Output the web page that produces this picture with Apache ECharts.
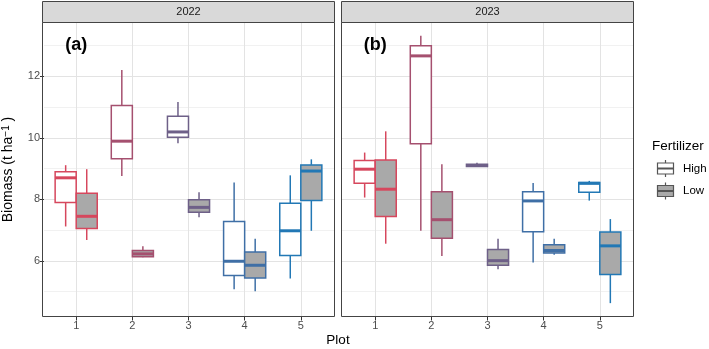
<!DOCTYPE html>
<html><head><meta charset="utf-8">
<script src="https://cdn.jsdelivr.net/npm/echarts@6/dist/echarts.min.js"></script>
<style>html,body{margin:0;padding:0;background:#fff}#c{width:709px;height:349px}</style>
</head><body><div id="c"></div>
<script>
// ---- data ----
const plots = ['1', '2', '3', '4', '5'];
const years = ['2022', '2023'];
const panelTags = ['(a)', '(b)'];
const fertilizers = ['High', 'Low'];
const yTicks = [6, 8, 10, 12];
const plotColors = ['#D6475D', '#A5506F', '#6E6088', '#3F6FA6', '#2278B5'];
// each row: [min, q1, median, q3, max]
const high2022 = [[7.12, 7.90, 8.70, 8.90, 9.11], [8.76, 9.32, 9.89, 11.05, 12.20], [9.82, 10.02, 10.19, 10.70, 11.16], [5.08, 5.53, 5.99, 7.28, 8.55], [5.43, 6.18, 6.98, 7.87, 8.78]];
const low2022  = [[6.68, 7.05, 7.45, 8.20, 8.98], [6.12, 6.14, 6.23, 6.34, 6.48], [7.42, 7.58, 7.74, 7.99, 8.23], [5.02, 5.45, 5.86, 6.29, 6.72], [6.98, 7.96, 8.92, 9.12, 9.30]];
const high2023 = [[8.06, 8.52, 8.98, 9.26, 9.52], [6.98, 9.81, 12.66, 12.99, 13.31], [9.05, 9.07, 9.10, 9.14, 9.19], [5.95, 6.95, 7.95, 8.25, 8.53], [7.96, 8.23, 8.52, 8.55, 8.60]];
const low2023  = [[6.56, 7.44, 8.33, 9.28, 10.21], [6.16, 6.74, 7.34, 8.25, 9.14], [5.73, 5.86, 6.01, 6.37, 6.72], [6.20, 6.26, 6.34, 6.53, 6.72], [4.63, 5.56, 6.49, 6.94, 7.36]];

// ---- layout ----
const panelLeft = [42.5, 341.5];
const panelW = 292, panelTop = 22.5, panelH = 294;
const band = panelW / 5.2;
const fillFor = { High: '#FFFFFF', Low: '#A9A9A9' };
const sideFor = { High: -1, Low: 1 };
const FONT = 'Liberation Sans';

const all = [].concat(high2022, low2022, high2023, low2023).flat();
const dmin = Math.min(...all), dmax = Math.max(...all);
const yMin = dmin - 0.05 * (dmax - dmin), yMax = dmax + 0.05 * (dmax - dmin);

function makeRender(fert) {
  const side = sideFor[fert], fill = fillFor[fert];
  return function (params, api) {
    const ci = api.value(0);
    const bw = api.size([1, 0])[0];
    const w = bw * 0.375;
    const base = api.coord([ci, api.value(3)]);
    const cx = base[0] + side * bw * 0.1875;
    const y = k => api.coord([ci, api.value(k)])[1];
    const color = plotColors[ci];
    const lw = 1.5;
    return { type: 'group', children: [
      { type: 'line', shape: { x1: cx, y1: y(5), x2: cx, y2: y(4) }, style: { stroke: color, lineWidth: lw } },
      { type: 'line', shape: { x1: cx, y1: y(2), x2: cx, y2: y(1) }, style: { stroke: color, lineWidth: lw } },
      { type: 'rect', shape: { x: cx - w / 2, y: y(4), width: w, height: y(2) - y(4) }, style: { fill: fill, stroke: color, lineWidth: lw } },
      { type: 'line', shape: { x1: cx - w / 2, y1: y(3), x2: cx + w / 2, y2: y(3) }, style: { stroke: color, lineWidth: 3 } }
    ]};
  };
}
const toData = rows => rows.map((r, i) => [i].concat(r));

// grids 0,1: full panels (background grid lines, y axis); grids 2,3: category data area
const grids = [];
panelLeft.forEach(pl => grids.push({ left: pl, width: panelW, top: panelTop, height: panelH, show: false }));
panelLeft.forEach(pl => grids.push({ left: pl + 0.1 * band, width: band * 5, top: panelTop, height: panelH, show: false }));

const xAxes = [], yAxes = [];
panelLeft.forEach((pl, i) => {
  xAxes.push({ type: 'value', gridIndex: i, min: 0, max: 1, show: false });
  yAxes.push({
    type: 'value', gridIndex: i, min: yMin, max: yMax,
    axisLine: { show: false },
    axisTick: { show: i === 0, customValues: yTicks, length: 4, lineStyle: { color: '#333', width: 1 } },
    axisLabel: { show: i === 0, customValues: yTicks, color: '#4D4D4D', fontSize: 11, margin: 4, fontFamily: FONT },
    splitLine: { show: true, lineStyle: { color: '#E3E3E3', width: 1 } },
    minorTick: { show: false, splitNumber: 2 },
    minorSplitLine: { show: true, lineStyle: { color: '#EEEEEE', width: 0.8 } },
    name: i === 0 ? 'Biomass (t ha{s|−1} )' : '', nameLocation: 'middle', nameGap: 29, nameRotate: 90,
    nameTextStyle: { fontSize: 14, color: '#000', fontFamily: FONT, rich: { s: { fontSize: 10, verticalAlign: 'top', color: '#000', fontFamily: FONT } } }
  });
});
panelLeft.forEach((pl, i) => {
  xAxes.push({
    type: 'category', gridIndex: i + 2, data: plots, boundaryGap: true,
    axisLine: { show: false },
    axisTick: { show: true, alignWithLabel: true, interval: 0, length: 4, lineStyle: { color: '#333', width: 1 } },
    axisLabel: { interval: 0, color: '#4D4D4D', fontSize: 11, margin: 4, fontFamily: FONT },
    splitLine: { show: true, alignWithLabel: true, interval: 0, lineStyle: { color: '#E3E3E3', width: 1 } }
  });
  yAxes.push({ type: 'value', gridIndex: i + 2, min: yMin, max: yMax, show: false, splitLine: { show: false } });
});

const series = [];
[[high2022, low2022], [high2023, low2023]].forEach((pair, gi) => {
  pair.forEach((rows, fi) => {
    series.push({
      type: 'custom', name: fertilizers[fi], xAxisIndex: gi + 2, yAxisIndex: gi + 2,
      renderItem: makeRender(fertilizers[fi]),
      encode: { x: 0, y: [1, 2, 3, 4, 5] },
      data: toData(rows), silent: true, z: 5
    });
  });
});

const graphic = [];
panelLeft.forEach((pl, i) => {
  graphic.push({ type: 'rect', shape: { x: pl, y: panelTop, width: panelW, height: panelH }, style: { fill: null, stroke: '#444', lineWidth: 1 }, z: 100 });
  graphic.push({ type: 'rect', shape: { x: pl, y: 1.5, width: panelW, height: 21 }, style: { fill: '#D9D9D9', stroke: '#444', lineWidth: 1 }, z: 100 });
  graphic.push({ type: 'text', x: pl + panelW / 2, y: 12, style: { text: years[i], fontSize: 11, fill: '#1A1A1A', align: 'center', verticalAlign: 'middle', fontFamily: FONT }, z: 101 });
});
graphic.push({ type: 'text', x: (panelLeft[0] + panelLeft[1] + panelW) / 2, y: 340, style: { text: 'Plot', fontSize: 13.5, fill: '#000', align: 'center', verticalAlign: 'middle', fontFamily: FONT } });
// legend
graphic.push({ type: 'text', x: 652, y: 146, style: { text: 'Fertilizer', fontSize: 13.5, fill: '#000', align: 'left', verticalAlign: 'middle', fontFamily: FONT } });
fertilizers.forEach((f, k) => {
  const cy = 168.5 + k * 22.5;
  const kx = 665.5;
  graphic.push({ type: 'line', shape: { x1: kx, y1: cy - 8.5, x2: kx, y2: cy + 8.5 }, style: { stroke: '#555', lineWidth: 1.2 } });
  graphic.push({ type: 'rect', shape: { x: kx - 8, y: cy - 5.5, width: 16, height: 11 }, style: { fill: fillFor[f], stroke: '#555', lineWidth: 1.2 } });
  graphic.push({ type: 'line', shape: { x1: kx - 8, y1: cy, x2: kx + 8, y2: cy }, style: { stroke: '#555', lineWidth: 2 } });
  graphic.push({ type: 'text', x: 683, y: cy, style: { text: f, fontSize: 11.5, fill: '#000', align: 'left', verticalAlign: 'middle', fontFamily: FONT } });
});

const chart = echarts.init(document.getElementById('c'), null, { renderer: 'canvas' });
chart.setOption({
  animation: false,
  backgroundColor: '#fff',
  textStyle: { fontFamily: FONT },
  grid: grids, xAxis: xAxes, yAxis: yAxes, series: series, graphic: graphic
});
// panel tags placed at data coordinates (plot 1, 13)
const tagGraphics = panelTags.map((t, i) => {
  const p = chart.convertToPixel({ xAxisIndex: i + 2, yAxisIndex: i + 2 }, [plots[0], 13]);
  return { type: 'text', x: p[0], y: p[1], style: { text: t, fontSize: 18, fontWeight: 'bold', fill: '#000', align: 'center', verticalAlign: 'middle', fontFamily: FONT }, z: 102 };
});
chart.setOption({ graphic: graphic.concat(tagGraphics) });
</script>
</body></html>
